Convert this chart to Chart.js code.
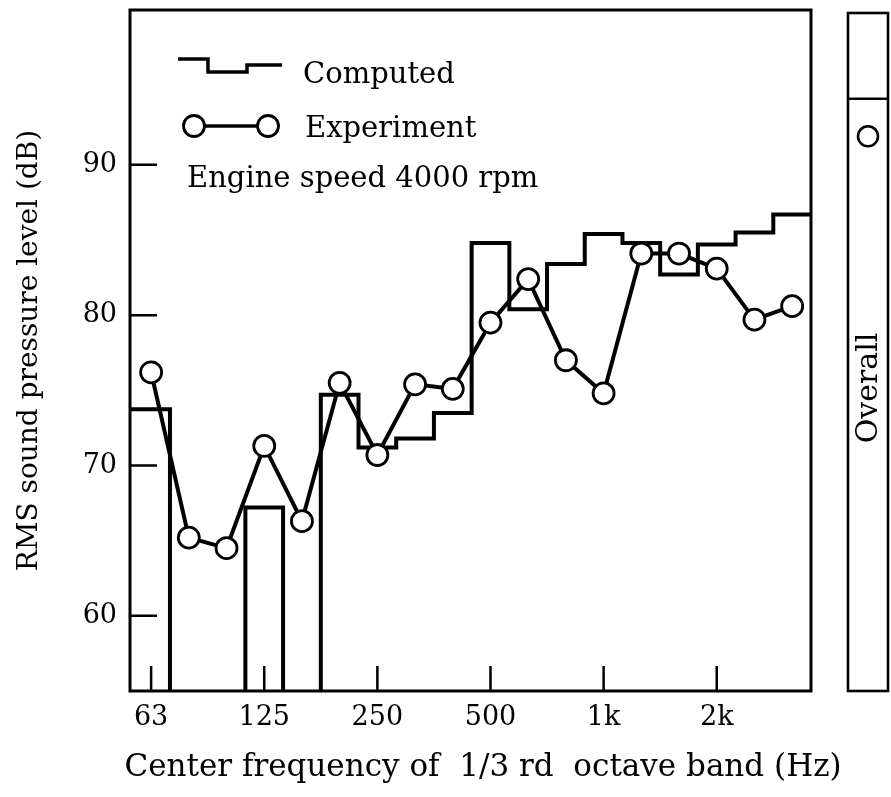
<!DOCTYPE html>
<html><head><meta charset="utf-8">
<script src="https://cdn.jsdelivr.net/npm/chart.js@4.4.1/dist/chart.umd.min.js"></script>
<style>
html,body{margin:0;padding:0;background:#fff;}
#wrap{position:relative;width:891px;height:797px;overflow:hidden;}
#main{position:absolute;left:0;top:0;}
#overall{position:absolute;left:843px;top:0;}
</style></head><body>
<div id="wrap"><canvas id="main" width="891" height="797"></canvas><canvas id="overall" width="48" height="797"></canvas></div>
<script>
// 1/3-octave band centre frequencies (Hz)
const bands = ['63','80','100','125','160','200','250','315','400','500','630','800','1k','1.25k','1.6k','2k','2.5k','3.15k'];
// Experiment (dB)
const experiment = [76.2, 65.2, 64.5, 71.3, 66.3, 75.5, 70.7, 75.4, 75.1, 79.5, 82.4, 77.0, 74.8, 84.1, 84.1, 83.1, 79.7, 80.6];
// Computed (dB); bands below the axis range are off-scale
const computed = [73.75, 50, 50, 67.2, 50, 74.7, 71.2, 71.8, 73.5, 84.8, 80.4, 83.4, 85.4, 84.8, 82.7, 84.7, 85.5, 86.7];
// Axis tick labels
const xTickLabels = ['63','125','250','500','1k','2k'];
const yTickValues = [60, 70, 80, 90];
// Overall levels (dB)
const overallExperiment = [91.9];
const overallComputed = [94.4];

const Y_MIN = 55, Y_MAX = 100.3;
const X_MIN = -0.56, X_MAX = 17.5;
const FONT = "'DejaVu Serif', 'Liberation Serif', serif";
Chart.defaults.font.family = FONT;
Chart.defaults.color = '#000';

const xTickIdx = xTickLabels.map(l => bands.indexOf(l));

const expPoints = experiment.map((v, i) => ({x: i, y: v}));
const compPoints = computed.map((v, i) => ({x: i === 0 ? X_MIN : i - 0.5, y: v}));
compPoints.push({x: X_MAX, y: computed[computed.length - 1]});

const framePlugin = {
  id: 'frame',
  afterDraw(chart) {
    const {ctx, chartArea: a, scales} = chart;
    ctx.save();
    ctx.strokeStyle = '#000';
    ctx.lineWidth = 3;
    ctx.strokeRect(a.left, a.top, a.right - a.left, a.bottom - a.top);
    ctx.lineWidth = 2.5;
    ctx.beginPath();
    yTickValues.forEach(v => {
      const y = scales.y.getPixelForValue(v);
      ctx.moveTo(a.left, y); ctx.lineTo(a.left + 27, y);
    });
    xTickIdx.forEach(i => {
      const x = scales.x.getPixelForValue(i);
      ctx.moveTo(x, a.bottom); ctx.lineTo(x, a.bottom - 25);
    });
    ctx.stroke();
    // legend
    ctx.lineWidth = 3.5;
    ctx.lineJoin = 'miter';
    ctx.beginPath();
    ctx.moveTo(178, 59); ctx.lineTo(208, 59); ctx.lineTo(208, 72);
    ctx.lineTo(247, 72); ctx.lineTo(247, 65); ctx.lineTo(282, 65);
    ctx.stroke();
    ctx.beginPath();
    ctx.moveTo(194, 126); ctx.lineTo(268, 126);
    ctx.stroke();
    ctx.lineWidth = 2.8;
    [194, 268].forEach(cx => {
      ctx.beginPath(); ctx.arc(cx, 126, 10.5, 0, Math.PI * 2);
      ctx.fillStyle = '#fff'; ctx.fill(); ctx.stroke();
    });
    ctx.fillStyle = '#000';
    ctx.font = '29px ' + FONT;
    ctx.textBaseline = 'alphabetic';
    ctx.textAlign = 'left';
    ctx.fillText('Computed', 303, 83);
    ctx.fillText('Experiment', 305, 137);
    ctx.fillText('Engine speed 4000 rpm', 187, 187);
    // x axis title
    ctx.font = '31px ' + FONT;
    ctx.textAlign = 'center';
    ctx.textBaseline = 'middle';
    ctx.fillText('Center frequency of  1/3 rd  octave band (Hz)', 483, 768);
    ctx.restore();
  }
};

new Chart(document.getElementById('main'), {
  type: 'line',
  data: {
    datasets: [
      {
        label: 'Experiment', data: expPoints,
        borderColor: '#000', borderWidth: 4,
        pointRadius: 10.5, pointBorderWidth: 2.8,
        pointBackgroundColor: '#fff', pointBorderColor: '#000',
        tension: 0
      },
      {
        label: 'Computed', data: compPoints,
        borderColor: '#000', borderWidth: 4, stepped: 'before',
        pointRadius: 0, clip: 0, tension: 0
      }
    ]
  },
  options: {
    responsive: false, animation: false,
    layout: {autoPadding: false, padding: {top: 10, right: 80, left: 0, bottom: 0}},
    plugins: {legend: {display: false}, tooltip: {enabled: false}},
    scales: {
      x: {
        type: 'linear', min: X_MIN, max: X_MAX,
        afterFit: s => { s.height = 106; s.paddingLeft = 0; s.paddingRight = 0; },
        afterBuildTicks: s => { s.ticks = xTickIdx.map(v => ({value: v})); },
        grid: {display: false, drawTicks: false},
        border: {display: false},
        ticks: {
          padding: 11, font: {size: 27}, maxRotation: 0, autoSkip: false,
          callback: v => bands[v]
        },
        title: {display: false}
      },
      y: {
        type: 'linear', min: Y_MIN, max: Y_MAX,
        afterFit: s => { s.width = 130; s.paddingTop = 0; s.paddingBottom = 0; },
        afterBuildTicks: s => { s.ticks = yTickValues.map(v => ({value: v})); },
        grid: {display: false, drawTicks: false},
        border: {display: false},
        ticks: {padding: 13, font: {size: 27}},
        title: {display: true, text: 'RMS sound pressure level (dB)', font: {size: 28}, padding: {top: 13, bottom: 0}}
      }
    }
  },
  plugins: [framePlugin]
});

const overallPlugin = {
  id: 'overallFrame',
  afterDraw(chart) {
    const {ctx, chartArea: a} = chart;
    ctx.save();
    ctx.strokeStyle = '#000';
    ctx.lineWidth = 2.6;
    ctx.strokeRect(a.left, a.top + 3, a.right - a.left, a.bottom - a.top - 3);
    ctx.fillStyle = '#000';
    ctx.font = '30px ' + FONT;
    ctx.textAlign = 'center';
    ctx.textBaseline = 'middle';
    ctx.translate((a.left + a.right) / 2 + 1, 388);
    ctx.rotate(-Math.PI / 2);
    ctx.fillText('Overall', 0, 0);
    ctx.restore();
  }
};

new Chart(document.getElementById('overall'), {
  type: 'line',
  data: {
    datasets: [
      {
        label: 'Experiment', data: overallExperiment.map(v => ({x: 0.5, y: v})),
        showLine: false, pointRadius: 10, pointBorderWidth: 2.6,
        pointBackgroundColor: '#fff', pointBorderColor: '#000'
      },
      {
        label: 'Computed', data: [{x: 0, y: overallComputed[0]}, {x: 1, y: overallComputed[0]}],
        borderColor: '#000', borderWidth: 2.6, pointRadius: 0, clip: 0
      }
    ]
  },
  options: {
    responsive: false, animation: false,
    layout: {autoPadding: false, padding: {top: 10, right: 3, left: 5, bottom: 106}},
    plugins: {legend: {display: false}, tooltip: {enabled: false}},
    scales: {
      x: {type: 'linear', min: 0, max: 1, display: false},
      y: {type: 'linear', min: Y_MIN, max: Y_MAX, display: false}
    }
  },
  plugins: [overallPlugin]
});
</script>
</body></html>
